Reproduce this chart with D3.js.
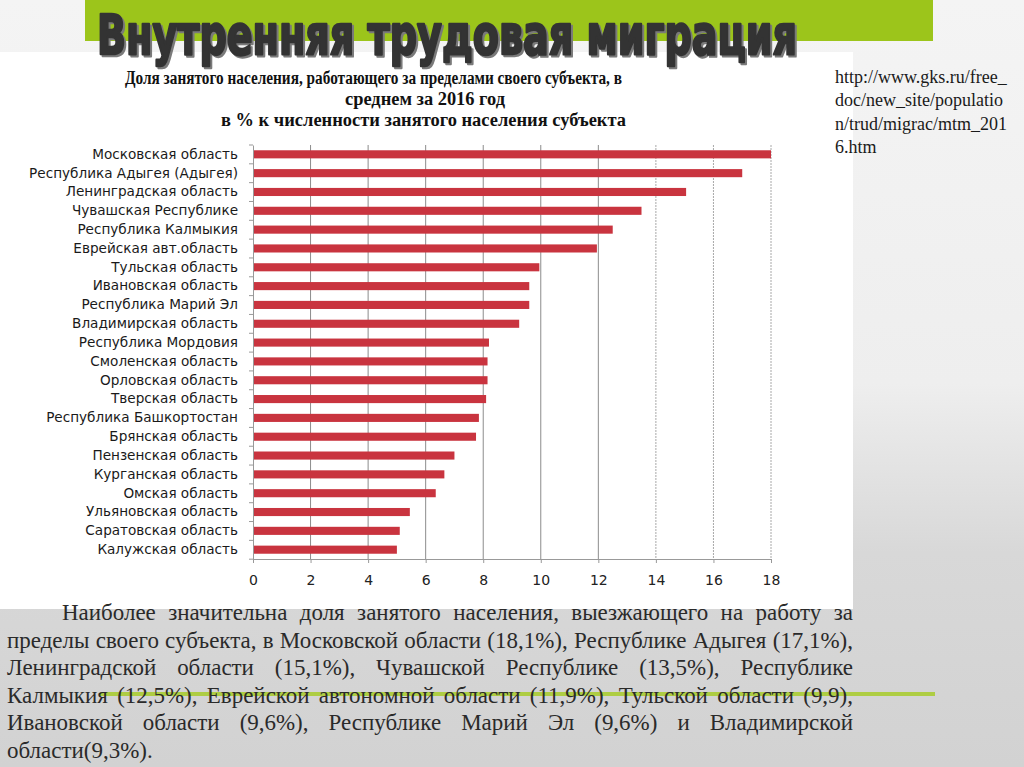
<!DOCTYPE html>
<html lang="ru">
<head>
<meta charset="UTF-8">
<title>Внутренняя трудовая миграция</title>
<script src="https://cdn.jsdelivr.net/npm/d3@7"></script>
<style>
  html, body { margin: 0; padding: 0; overflow: hidden; }
  svg { display: block; }
</style>
</head>
<body>
<script>
// регионы и доли (в % к численности занятого населения субъекта)
var regions = [
  'Московская область', 'Республика Адыгея (Адыгея)', 'Ленинградская область',
  'Чувашская Республике', 'Республика Калмыкия', 'Еврейская авт.область',
  'Тульская область', 'Ивановская область', 'Республика Марий Эл',
  'Владимирская область', 'Республика Мордовия', 'Смоленская область',
  'Орловская область', 'Тверская область', 'Республика Башкортостан',
  'Брянская область', 'Пензенская область', 'Курганская область',
  'Омская область', 'Ульяновская область', 'Саратовская область', 'Калужская область'
];
var shares = [18.0, 17.0, 15.05, 13.5, 12.5, 11.95, 9.95, 9.6, 9.6, 9.25,
              8.2, 8.15, 8.15, 8.1, 7.85, 7.75, 7.0, 6.65, 6.35, 5.45, 5.1, 5.0];
var xTicks = [0, 2, 4, 6, 8, 10, 12, 14, 16, 18];

var chartTitle = [
  'Доля занятого населения, работающего за пределами своего субъекта, в',
  'среднем за 2016 год',
  'в % к численности занятого населения субъекта'
];
var sourceLines = ['http://www.gks.ru/free_', 'doc/new_site/populatio', 'n/trud/migrac/mtm_201', '6.htm'];
var noteLines = [
  'Наиболее значительна доля занятого населения, выезжающего на работу за',
  'пределы своего субъекта, в Московской области (18,1%), Республике Адыгея (17,1%),',
  'Ленинградской области (15,1%), Чувашской Республике (13,5%), Республике',
  'Калмыкия (12,5%), Еврейской автономной области (11,9%), Тульской области (9,9),',
  'Ивановской области (9,6%), Республике Марий Эл (9,6%) и Владимирской',
  'области(9,3%).'
];

var width = 1024, height = 767;
var svg = d3.select('body').append('svg')
    .attr('width', width)
    .attr('height', height);

// фон слайда
var defs = svg.append('defs');
var bg = defs.append('linearGradient').attr('id', 'bg')
    .attr('x1', 0).attr('y1', 0).attr('x2', 0).attr('y2', 1);
bg.append('stop').attr('offset', '0%').attr('stop-color', '#f4f4f4');
bg.append('stop').attr('offset', '50%').attr('stop-color', '#eeeeee');
bg.append('stop').attr('offset', '72%').attr('stop-color', '#d8d8d8');
bg.append('stop').attr('offset', '100%').attr('stop-color', '#d2d2d2');
svg.append('rect').attr('width', width).attr('height', height).attr('fill', 'url(#bg)');

// белая область диаграммы
svg.append('rect').attr('x', 0).attr('y', 52).attr('width', 853).attr('height', 557).attr('fill', '#ffffff');

// зелёная плашка и заголовок
svg.append('rect').attr('x', 85).attr('y', 0).attr('width', 848).attr('height', 41).attr('fill', '#9cc51b');
[['#7a7a7a', 2], ['#333333', 0]].forEach(function(s) {
  svg.append('text')
      .attr('x', 97 + s[1]).attr('y', 54 + s[1])
      .attr('font-family', '"DejaVu Sans Condensed", "DejaVu Sans", sans-serif')
      .attr('font-weight', 'bold')
      .attr('font-size', 56)
      .attr('textLength', 700)
      .attr('lengthAdjust', 'spacingAndGlyphs')
      .attr('fill', s[0])
      .attr('stroke', s[0])
      .attr('stroke-width', 2.4)
      .attr('stroke-linejoin', 'round')
      .text('Внутренняя трудовая миграция');
});

// заголовок диаграммы
var titlePos = [[125, 84, 497], [345, 105, 160], [221, 126, 405]];
chartTitle.forEach(function(t, i) {
  svg.append('text')
      .attr('x', titlePos[i][0]).attr('y', titlePos[i][1])
      .attr('font-family', '"Liberation Serif", serif')
      .attr('font-weight', 'bold')
      .attr('font-size', 18)
      .attr('textLength', titlePos[i][2])
      .attr('lengthAdjust', 'spacingAndGlyphs')
      .attr('fill', '#111')
      .text(t);
});

// ссылка на источник
sourceLines.forEach(function(t, i) {
  svg.append('text')
      .attr('x', 835).attr('y', 83 + i * 23.3)
      .attr('font-family', '"Liberation Serif", serif')
      .attr('font-size', 18)
      .attr('fill', '#1a1a1a')
      .text(t);
});

// диаграмма
var plot = {left: 253, right: 771, top: 145, bottom: 559};
var x = d3.scaleLinear().domain([0, 18]).range([plot.left, plot.right]);
var y = d3.scaleBand().domain(regions).range([plot.top, plot.bottom]).paddingInner(0.57).paddingOuter(0.28);

var g = svg.append('g');

// сетка
g.selectAll('line.grid')
    .data(xTicks.slice(1))
    .enter().append('line')
    .attr('class', 'grid')
    .attr('x1', function(d) { return x(d); })
    .attr('x2', function(d) { return x(d); })
    .attr('y1', plot.top)
    .attr('y2', plot.bottom)
    .attr('stroke', function(d) { return d > 12 ? '#a8a8a8' : '#8c8c8c'; })
    .attr('stroke-dasharray', function(d) { return d > 12 ? '2,1' : null; })
    .attr('stroke-width', 1);

// столбцы
g.selectAll('rect.bar')
    .data(shares)
    .enter().append('rect')
    .attr('class', 'bar')
    .attr('x', x(0))
    .attr('y', function(d, i) { return y(regions[i]); })
    .attr('width', function(d) { return x(d) - x(0); })
    .attr('height', y.bandwidth())
    .attr('fill', '#c9343f');

// ось X
var xAxis = g.append('g')
    .attr('transform', 'translate(0,' + plot.bottom + ')')
    .call(d3.axisBottom(x).tickValues(xTicks).tickSize(4).tickPadding(12));
xAxis.select('.domain').attr('stroke', '#999');
xAxis.selectAll('.tick line').attr('stroke', '#999');
xAxis.selectAll('text')
    .attr('font-family', '"DejaVu Sans", sans-serif')
    .attr('font-size', 14)
    .attr('fill', '#222');

// ось Y
var yAxis = g.append('g')
    .attr('transform', 'translate(' + plot.left + ',0)')
    .call(d3.axisLeft(y).tickSize(0).tickPadding(15));
yAxis.select('.domain').attr('stroke', '#999');
yAxis.selectAll('text')
    .attr('font-family', '"DejaVu Sans", sans-serif')
    .attr('font-size', 13.6)
    .attr('fill', '#1a1a1a');
// засечки между категориями
g.selectAll('line.ytick')
    .data(d3.range(regions.length + 1))
    .enter().append('line')
    .attr('class', 'ytick')
    .attr('x1', plot.left - 4).attr('x2', plot.left)
    .attr('y1', function(i) { return plot.top + i * y.step(); })
    .attr('y2', function(i) { return plot.top + i * y.step(); })
    .attr('stroke', '#999');

// зелёная линия внизу
svg.append('line')
    .attr('x1', 100).attr('x2', 935).attr('y1', 694).attr('y2', 694)
    .attr('stroke', '#a8cc2a').attr('stroke-width', 4).attr('opacity', 0.85);

// текст с выравниванием по ширине
var textRight = 853;
var fontSize = 20;
// подбор размера шрифта по самой плотной строке
var probe = svg.append('text')
    .attr('font-family', '"Liberation Serif", serif')
    .attr('font-size', fontSize)
    .text(noteLines[1]);
var probeW = probe.node().getComputedTextLength();
probe.remove();
fontSize = fontSize * (textRight - 7) / probeW * 0.995;

noteLines.forEach(function(line, i) {
  var left = i === 0 ? 62 : 7;
  var baseY = 620 + i * 27.6;
  var words = line.split(' ');
  var tg = svg.append('g');
  var nodes = words.map(function(w) {
    return tg.append('text')
        .attr('y', baseY)
        .attr('font-family', '"Liberation Serif", serif')
        .attr('font-size', fontSize)
        .attr('fill', '#2a2a2a')
        .text(w);
  });
  var widths = nodes.map(function(n) { return n.node().getComputedTextLength(); });
  var total = d3.sum(widths);
  var last = i === noteLines.length - 1;
  var gap = last ? fontSize * 0.25 : (textRight - left - total) / (words.length - 1);
  var scale = 1;
  if (!last && gap < 3) {
    scale = (textRight - left - 3 * (words.length - 1)) / total;
    gap = 3;
  }
  var cx = left;
  nodes.forEach(function(n, k) {
    var w = widths[k] * scale;
    n.attr('x', cx);
    if (scale !== 1) n.attr('textLength', w).attr('lengthAdjust', 'spacingAndGlyphs');
    cx += w + gap;
  });
});
</script>
</body>
</html>
